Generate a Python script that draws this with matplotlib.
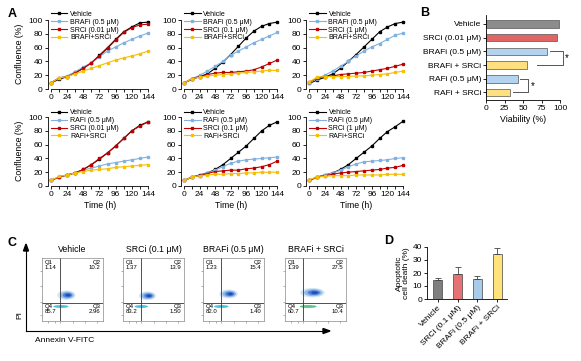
import matplotlib
matplotlib.use("Agg")
import matplotlib.pyplot as plt
from matplotlib.patches import Ellipse

plt.rcParams['font.family'] = ['Liberation Sans', 'DejaVu Sans']
plt.rcParams['axes.linewidth'] = 0.6
plt.rcParams['xtick.major.width'] = 0.6
plt.rcParams['ytick.major.width'] = 0.6
plt.rcParams['xtick.major.size'] = 2
plt.rcParams['ytick.major.size'] = 2

W, H = 581, 361

# ---- panel A data ----
time_h = [0, 12, 24, 36, 48, 60, 72, 84, 96, 108, 120, 132, 144]
panel_titles = [
    ["Vehicle", "BRAFi (0.5 μM)", "SRCi (0.01 μM)", "BRAFi+SRCi"],
    ["Vehicle", "BRAFi (0.5 μM)", "SRCi (0.1 μM)", "BRAFi+SRCi"],
    ["Vehicle", "BRAFi (0.5 μM)", "SRCi (1 μM)", "BRAFi+SRCi"],
    ["Vehicle", "RAFi (0.5 μM)", "SRCi (0.01 μM)", "RAFi+SRCi"],
    ["Vehicle", "RAFi (0.5 μM)", "SRCi (0.1 μM)", "RAFi+SRCi"],
    ["Vehicle", "RAFi (0.5 μM)", "SRCi (1 μM)", "RAFi+SRCi"],
]
vehicle = [
    [9, 14, 18, 24, 30, 38, 49, 60, 72, 83, 90, 96, 97],
    [9, 14, 18, 22, 30, 39, 50, 62, 74, 84, 91, 95, 97],
    [8, 13, 17, 22, 30, 40, 50, 61, 72, 83, 90, 95, 97],
    [8, 13, 16, 19, 24, 31, 39, 48, 58, 69, 80, 88, 93],
    [8, 13, 16, 19, 24, 31, 40, 49, 58, 69, 80, 88, 93],
    [8, 13, 16, 19, 24, 31, 40, 49, 58, 69, 79, 86, 94],
]
raf_single = [
    [9, 16, 19, 25, 32, 38, 47, 55, 61, 67, 72, 77, 81],
    [9, 15, 20, 26, 33, 40, 49, 55, 61, 67, 72, 77, 82],
    [9, 15, 20, 26, 33, 40, 48, 55, 61, 66, 72, 78, 81],
    [8, 13, 16, 19, 23, 26, 29, 32, 34, 36, 38, 40, 42],
    [8, 13, 15, 19, 23, 28, 33, 36, 38, 39, 40, 41, 42],
    [8, 13, 16, 19, 23, 28, 32, 35, 36, 37, 38, 40, 41],
]
src_single = [
    [9, 16, 18, 23, 30, 38, 48, 59, 71, 82, 89, 93, 94],
    [9, 15, 18, 21, 23, 24, 24, 25, 26, 28, 32, 37, 42],
    [10, 16, 18, 19, 21, 22, 23, 24, 26, 28, 30, 33, 36],
    [8, 13, 16, 19, 24, 31, 40, 48, 58, 69, 80, 87, 93],
    [8, 13, 15, 18, 21, 22, 23, 23, 25, 26, 28, 31, 36],
    [8, 13, 15, 17, 19, 20, 21, 22, 23, 24, 26, 27, 30],
]
combo = [
    [9, 16, 18, 22, 26, 30, 34, 38, 42, 45, 48, 51, 55],
    [9, 15, 17, 19, 20, 21, 22, 23, 24, 25, 26, 27, 27],
    [10, 17, 18, 18, 18, 18, 19, 19, 20, 21, 22, 24, 26],
    [8, 14, 16, 19, 21, 23, 24, 25, 27, 28, 29, 30, 31],
    [8, 13, 15, 16, 17, 17, 18, 18, 19, 19, 20, 20, 20],
    [9, 13, 14, 15, 15, 15, 16, 16, 16, 16, 17, 17, 17],
]
line_colors = ["black", "#7fb2e0", "#c00000", "#f5c000"]

# ---- panel B data ----
b_labels = ["Vehicle", "SRCi (0.01 μM)", "BRAFi (0.5 μM)", "BRAFi + SRCi",
            "RAFi (0.5 μM)", "RAFi + SRCi"]
b_values = [98, 96, 83, 55, 43, 32]
b_colors = ["#8c8c8c", "#e06666", "#b4d3ee", "#ffe07f", "#b4d3ee", "#ffe07f"]

# ---- panel C data ----
c_titles = ["Vehicle", "SRCi (0.1 μM)", "BRAFi (0.5 μM)", "BRAFi + SRCi"]
q1 = ["1.14", "1.37", "1.23", "1.39"]
q2 = ["10.2", "13.9", "15.4", "27.5"]
q3 = ["2.96", "1.50", "1.40", "10.4"]
q4 = ["85.7", "83.2", "82.0", "60.7"]

# ---- panel D data ----
d_labels = ["Vehicle", "SRCi (0.1 μM)", "BRAFi (0.5 μM)", "BRAFi + SRCi"]
d_values = [14.5, 19, 15.5, 34.5]
d_err = [2, 6, 2, 5]
d_colors = ["#7f7f7f", "#e57373", "#a8cbea", "#ffe37a"]


def px(x0, y0, x1, y1):
    return [x0 / W, 1 - y1 / H, (x1 - x0) / W, (y1 - y0) / H]


fig = plt.figure(figsize=(W / 100, H / 100), dpi=100)

# ---------------- A ----------------
cols = [(47.6, 152), (181, 281), (306, 407)]
rows = [(18, 89), (115, 186)]
for i in range(6):
    r, c = divmod(i, 3)
    ax = fig.add_axes(px(cols[c][0], rows[r][0], cols[c][1], rows[r][1]))
    series = [vehicle[i], raf_single[i], src_single[i], combo[i]]
    for s, col, lab in zip(series, line_colors, panel_titles[i]):
        ax.plot(time_h, s, color=col, lw=0.8, marker="s", ms=1.8, label=lab)
    ax.set_xlim(-5, 150)
    ax.set_ylim(0, 103)
    ax.set_xticks(time_h, minor=True)
    ax.set_xticks([0, 24, 48, 72, 96, 120, 144])
    ax.set_yticks([0, 20, 40, 60, 80, 100])
    ax.tick_params(labelsize=6, pad=1.5)
    ax.tick_params(which="minor", length=2, width=0.6)
    ax.spines["top"].set_visible(False)
    ax.spines["right"].set_visible(False)
    ax.spines["left"].set_bounds(0, 100)
    ax.spines["bottom"].set_bounds(0, 144)
    ax.legend(loc="upper left", bbox_to_anchor=(0.03, 1.1 if r == 0 else 1.08),
              frameon=False, fontsize=5, handlelength=2.4, handletextpad=0.4,
              labelspacing=0.12, borderpad=0, borderaxespad=0)
    if c == 0:
        ax.set_ylabel("Confluence (%)", fontsize=6.3, labelpad=3)
    if r == 1:
        ax.set_xlabel("Time (h)", fontsize=6.3, labelpad=2)

# ---------------- B ----------------
axb = fig.add_axes(px(486, 15, 560, 100))
ypos = list(range(len(b_labels)))[::-1]
axb.barh(ypos, b_values, height=0.55, color=b_colors, edgecolor="#555555", lw=0.5)
axb.set_yticks(ypos)
axb.set_yticklabels(b_labels, fontsize=6.2)
axb.set_xlim(0, 100)
axb.set_ylim(-0.55, 5.65)
axb.set_xticks([0, 25, 50, 75, 100])
axb.tick_params(labelsize=6, pad=1.5)
axb.set_xlabel("Viability (%)", fontsize=6.3, labelpad=2)
axb.spines["top"].set_visible(False)
axb.spines["right"].set_visible(False)
axb.plot([86.5, 103.6, 103.6, 68.5], [3, 3, 2, 2], color="#555555", lw=0.7, clip_on=False)
axb.text(106, 2.5, "*", fontsize=7, va="center", ha="left")
axb.plot([46, 57, 57, 37], [1, 1, 0, 0], color="#555555", lw=0.7, clip_on=False)
axb.text(60, 0.5, "*", fontsize=7, va="center", ha="left")

# ---------------- C ----------------
fig.add_artist(plt.Line2D([26 / W, 26 / W], [1 - 331 / H, 1 - 250 / H], color="black", lw=0.8))
fig.add_artist(plt.Line2D([26 / W, 324 / W], [1 - 331 / H, 1 - 331 / H], color="black", lw=0.8))
fig.add_artist(plt.Polygon([[23.5 / W, 1 - 251 / H], [28.5 / W, 1 - 251 / H], [26 / W, 1 - 244 / H]],
                           closed=True, color="black"))
fig.add_artist(plt.Polygon([[323 / W, 1 - 328.5 / H], [323 / W, 1 - 333.5 / H], [330 / W, 1 - 331 / H]],
                           closed=True, color="black"))
fig.text(20 / W, 1 - 315 / H, "PI", rotation=90, fontsize=6, ha="center", va="center")
fig.text(35 / W, 1 - 341 / H, "Annexin V-FITC", fontsize=6, ha="left", va="center")

# cloud shapes: (cx, cy, w, h) main population, then early-apoptotic streak
clouds = [
    [(0.40, 0.41, 0.30, 0.15), (0.31, 0.23, 0.25, 0.045, "#29b6d6")],
    [(0.40, 0.40, 0.28, 0.14), (0.30, 0.23, 0.22, 0.045, "#29b6d6")],
    [(0.42, 0.43, 0.30, 0.14), (0.30, 0.23, 0.24, 0.045, "#29b6d6")],
    [(0.45, 0.45, 0.40, 0.15), (0.38, 0.23, 0.28, 0.045, "#3cba6e")],
]
boxes = [(42, 103), (123, 184), (203, 264), (285, 346)]
for k, (x0, x1) in enumerate(boxes):
    ax = fig.add_axes(px(x0, 258, x1, 321))
    ax.set_xlim(0, 1)
    ax.set_ylim(0, 1)
    cx, cy, w, h = clouds[k][0]
    for scale, col, dx in [(1.0, "#d4e4f7", 0), (0.75, "#8fb8e8", 0.01),
                           (0.5, "#4a7fd6", 0.02), (0.28, "#1f4fb5", 0.03)]:
        ax.add_patch(Ellipse((cx + dx * w * 3, cy), w * scale, h * scale, color=col, lw=0))
    sx, sy, sw, sh, scol = clouds[k][1]
    ax.add_patch(Ellipse((sx, sy), sw, sh, color=scol, lw=0, alpha=0.85))
    ax.axvline(0.3, color="#333333", lw=0.6)
    ax.axhline(0.29, color="#333333", lw=0.6)
    ax.set_xticks([0.1, 0.22, 0.3, 0.5, 0.7, 0.9])
    ax.set_yticks([0.1, 0.3, 0.55, 0.8])
    ax.set_xticklabels([])
    ax.set_yticklabels([])
    ax.tick_params(length=1.5, width=0.4, color="#777777")
    for sp in ax.spines.values():
        sp.set_color("#888888")
        sp.set_linewidth(0.5)
    fs = 4.3
    ax.text(0.04, 0.97, "Q1\n" + q1[k], fontsize=fs, va="top", ha="left", linespacing=1.1)
    ax.text(0.96, 0.97, "Q2\n" + q2[k], fontsize=fs, va="top", ha="right", linespacing=1.1)
    ax.text(0.04, 0.27, "Q4\n" + q4[k], fontsize=fs, va="top", ha="left", linespacing=1.1)
    ax.text(0.96, 0.27, "Q3\n" + q3[k], fontsize=fs, va="top", ha="right", linespacing=1.1)
    ax.set_title(c_titles[k], fontsize=6.3, pad=4)

# ---------------- D ----------------
axd = fig.add_axes(px(427, 247, 507, 299))
xd = list(range(len(d_labels)))
axd.bar(xd, d_values, width=0.45, color=d_colors, edgecolor="#444444", lw=0.5,
        yerr=[[0] * 4, d_err], error_kw=dict(ecolor="#444444", elinewidth=0.6, capsize=2, capthick=0.6))
axd.set_xlim(-0.55, 3.5)
axd.set_ylim(0, 40)
axd.set_yticks([0, 10, 20, 30, 40])
axd.set_xticks(xd)
axd.set_xticklabels(d_labels, rotation=45, ha="right", rotation_mode="anchor", fontsize=6)
axd.tick_params(labelsize=6, pad=1.5)
axd.set_ylabel("Apoptotic\ncell death (%)", fontsize=6, labelpad=2, linespacing=1.0)
axd.spines["top"].set_visible(False)
axd.spines["right"].set_visible(False)

# panel letters
for lab, x, y in [("A", 8, 14), ("B", 420, 13), ("C", 8, 243), ("D", 384, 241)]:
    fig.text(x / W, 1 - y / H, lab, fontsize=9, fontweight="bold", ha="left", va="center")

fig.savefig("out.png", dpi=100)
